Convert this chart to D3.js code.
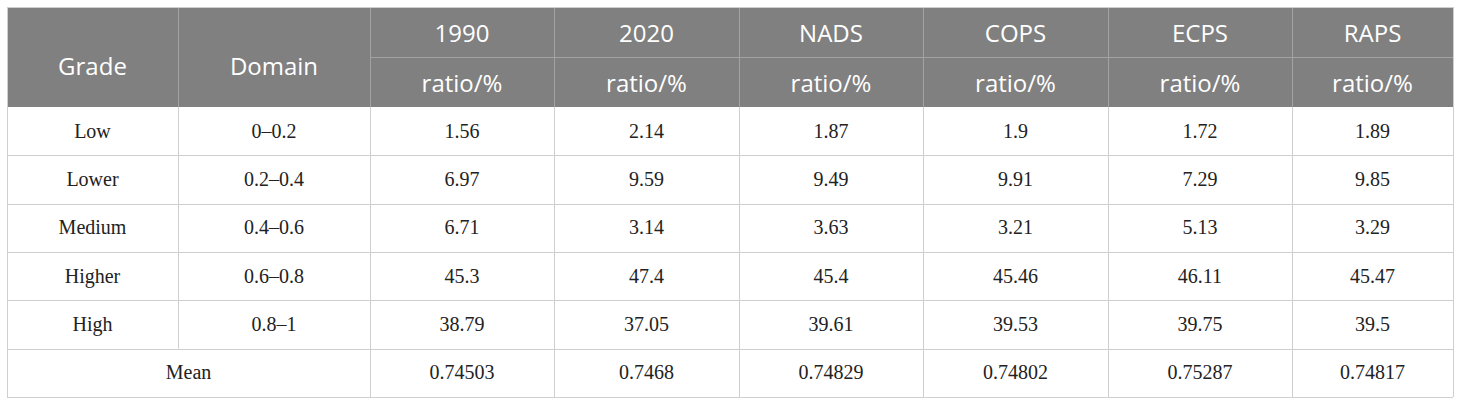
<!DOCTYPE html>
<html>
<head>
<meta charset="utf-8">
<script src="https://cdn.jsdelivr.net/npm/d3@7"></script>
<style>
  body { margin: 0; background: #fff; }
</style>
</head>
<body>
<div id="chart"></div>
<script>
// table data
const grades = ["Low", "Lower", "Medium", "Higher", "High"];
const domains = ["0\u20130.2", "0.2\u20130.4", "0.4\u20130.6", "0.6\u20130.8", "0.8\u20131"];
const scenarios = ["1990", "2020", "NADS", "COPS", "ECPS", "RAPS"];
const unitLabel = "ratio/%";
const v1990 = [1.56, 6.97, 6.71, 45.3, 38.79];
const v2020 = [2.14, 9.59, 3.14, 47.4, 37.05];
const vNADS = [1.87, 9.49, 3.63, 45.4, 39.61];
const vCOPS = [1.9, 9.91, 3.21, 45.46, 39.53];
const vECPS = [1.72, 7.29, 5.13, 46.11, 39.75];
const vRAPS = [1.89, 9.85, 3.29, 45.47, 39.5];
const means = [0.74503, 0.7468, 0.74829, 0.74802, 0.75287, 0.74817];
const series = [v1990, v2020, vNADS, vCOPS, vECPS, vRAPS];

// layout
const W = 1460, H = 405;
const colEdges = [7, 178, 370, 554, 739, 923, 1108, 1292, 1453];
const tableTop = 7, headMid = 57, headBot = 107, tableBot = 397;
const headFill = "#808080", headLine = "#a3a3a3", bodyLine = "#cfcfcf";

const svg = d3.select("#chart").append("svg")
    .attr("width", W)
    .attr("height", H);

const rowKeys = grades.concat(["Mean"]);
const y = d3.scaleBand().domain(rowKeys).range([headBot, tableBot]);
const colMid = i => (colEdges[i] + colEdges[i + 1]) / 2;

// header background
svg.append("rect")
    .attr("x", colEdges[0]).attr("y", tableTop)
    .attr("width", colEdges[8] - colEdges[0]).attr("height", headBot - tableTop)
    .attr("fill", headFill);

// header grid
const hg = svg.append("g").attr("stroke", headLine).attr("stroke-width", 1);
colEdges.slice(1, -1).forEach(xv => {
    hg.append("line").attr("x1", xv + 0.5).attr("x2", xv + 0.5).attr("y1", tableTop).attr("y2", headBot);
});
hg.append("line").attr("x1", colEdges[2]).attr("x2", colEdges[8]).attr("y1", headMid + 0.5).attr("y2", headMid + 0.5);

// body grid
const bg = svg.append("g").attr("stroke", bodyLine).attr("stroke-width", 1).attr("fill", "none");
bg.append("line").attr("x1", colEdges[0]).attr("x2", colEdges[8]).attr("y1", tableTop + 0.5).attr("y2", tableTop + 0.5);
rowKeys.forEach(k => {
    const yy = Math.round(y(k) + y.bandwidth()) + 0.5;
    bg.append("line").attr("x1", colEdges[0]).attr("x2", colEdges[8]).attr("y1", yy).attr("y2", yy);
});
colEdges.forEach((xv, i) => {
    // Mean row spans first two columns, so skip the divider there
    const y2 = i === 1 ? y("Mean") : tableBot;
    const y1 = (i === 0 || i === 8) ? tableTop : headBot;
    bg.append("line").attr("x1", xv + 0.5).attr("x2", xv + 0.5).attr("y1", y1).attr("y2", y2);
});

// header text
function headText(x, yc, t) {
    svg.append("text")
        .attr("x", x).attr("y", yc)
        .attr("dy", "0.36em")
        .attr("text-anchor", "middle")
        .attr("fill", "#fff")
        .style("font-family", "'Open Sans', sans-serif")
        .style("font-size", "24px")
        .text(t);
}
headText(colMid(0), 66, "Grade");
headText(colMid(1), 66, "Domain");
scenarios.forEach((s, i) => {
    headText(colMid(i + 2), (tableTop + headMid) / 2 + 1, s);
    headText(colMid(i + 2), (headMid + headBot) / 2 + 1, unitLabel);
});

// body text
function bodyText(x, yc, t) {
    svg.append("text")
        .attr("x", x).attr("y", yc)
        .attr("dy", "0.33em")
        .attr("text-anchor", "middle")
        .attr("fill", "#222")
        .style("font-family", "'Liberation Serif', 'Times New Roman', serif")
        .style("font-size", "20px")
        .text(t);
}
grades.forEach((g, r) => {
    const yc = y(g) + y.bandwidth() / 2;
    bodyText(colMid(0), yc, g);
    bodyText(colMid(1), yc, domains[r]);
    series.forEach((vals, c) => bodyText(colMid(c + 2), yc, String(vals[r])));
});
const ym = y("Mean") + y.bandwidth() / 2;
bodyText((colEdges[0] + colEdges[2]) / 2, ym, "Mean");
means.forEach((m, c) => bodyText(colMid(c + 2), ym, String(m)));
</script>
</body>
</html>
